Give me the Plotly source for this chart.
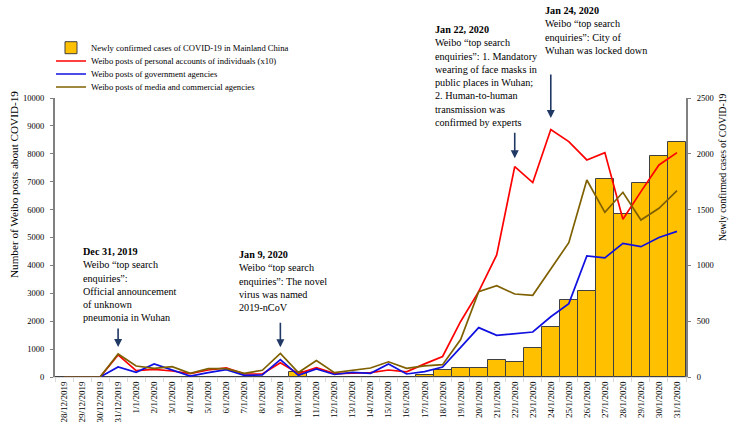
import plotly.graph_objects as go

dates = ["28/12/2019", "29/12/2019", "30/12/2019", "31/12/2019",
         "1/1/2020", "2/1/2020", "3/1/2020", "4/1/2020", "5/1/2020", "6/1/2020",
         "7/1/2020", "8/1/2020", "9/1/2020", "10/1/2020", "11/1/2020", "12/1/2020",
         "13/1/2020", "14/1/2020", "15/1/2020", "16/1/2020", "17/1/2020", "18/1/2020",
         "19/1/2020", "20/1/2020", "21/1/2020", "22/1/2020", "23/1/2020", "24/1/2020",
         "25/1/2020", "26/1/2020", "27/1/2020", "28/1/2020", "29/1/2020", "30/1/2020",
         "31/1/2020"]

new_cases = [0, 0, 0, 0,
             0, 0, 0, 0, 0, 0,
             0, 0, 0, 41, 0, 0,
             0, 0, 0, 4, 17, 59,
             77, 77, 149, 131, 259, 444,
             688, 769, 1771, 1459, 1737, 1981,
             2102]

personal_x10 = [0, 0, 0, 790,
                227, 275, 215, 120, 250, 323,
                107, 107, 514, 120, 334, 119,
                131, 155, 251, 185, 470, 735,
                1990, 3059, 4373, 7540, 6967, 8870,
                8437, 7780, 8042, 5652, 6644, 7600,
                8042]

government = [0, 0, 0, 358,
              167, 466, 240, 36, 155, 263,
              60, 72, 621, 60, 287, 90,
              167, 130, 470, 108, 191, 360,
              1064, 1769, 1494, 1565, 1613, 2160,
              2630, 4338, 4270, 4792, 4672, 5000,
              5220]

media = [0, 0, 0, 825,
         394, 310, 370, 131, 298, 298,
         131, 240, 848, 160, 590, 155,
         251, 323, 545, 310, 400, 442,
         1340, 3059, 3270, 2975, 2928, 3880,
         4816, 7062, 5903, 6620, 5628, 6047,
         6680]

names = ["Newly confirmed cases of COVID-19 in Mainland China",
         "Weibo posts of personal accounts of individuals (x10)",
         "Weibo posts of government agencies",
         "Weibo posts of media and commercial agencies"]

FONT = "Liberation Serif"
ARROW = "#203864"

fig = go.Figure()
fig.add_trace(go.Bar(
    x=dates, y=new_cases, name=names[0], width=1,
    marker=dict(color="#FFC000", line=dict(color="#404040", width=1)),
    yaxis="y", legend="legend"))
fig.add_trace(go.Scatter(
    x=dates, y=personal_x10, name=names[1], mode="lines",
    line=dict(color="#FF0000", width=1.7), yaxis="y2", legend="legend2"))
fig.add_trace(go.Scatter(
    x=dates, y=government, name=names[2], mode="lines",
    line=dict(color="#1010E0", width=1.7), yaxis="y2", legend="legend3"))
fig.add_trace(go.Scatter(
    x=dates, y=media, name=names[3], mode="lines",
    line=dict(color="#7F6000", width=1.7), yaxis="y2", legend="legend4"))

W, H = 738, 428
L, R, T, B = 55, 52, 98, 51
RX0, RX1, RY0, RY1 = L, W - R, T, H - B


def px(xp):
    return (xp - RX0) / (RX1 - RX0)


def py(yp):
    return (RY1 - yp) / (RY1 - RY0)


def legend_at(ypix):
    return dict(x=px(51), y=py(ypix), xanchor="left", yanchor="middle",
                bgcolor="rgba(0,0,0,0)", font=dict(family=FONT, size=8.6, color="#000"),
                itemwidth=30, tracegroupgap=0)


axis_font = dict(family=FONT, size=8.5, color="#000")

annotations = []
notes = [
    (80.7, 251, "<b>Dec 31, 2019</b><br>Weibo “top search<br>enquiries”:<br>Official announcement<br>of unknown<br>pneumonia in Wuhan"),
    (237, 254.7, "<b>Jan 9, 2020</b><br>Weibo “top search<br>enquiries”: The novel<br>virus was named<br>2019-nCoV"),
    (432.7, 29, "<b>Jan 22, 2020</b><br>Weibo “top search<br>enquiries”: 1. Mandatory<br>wearing of face masks in<br>public places in Wuhan;<br>2. Human-to-human<br>transmission was<br>confirmed by experts"),
    (543.3, 10.7, "<b>Jan 24, 2020</b><br>Weibo “top search<br>enquiries”: City of<br>Wuhan was locked down"),
]
for xl, yc, txt in notes:
    annotations.append(dict(
        x=px(xl), y=py(yc - 7.5), xref="paper", yref="paper",
        xanchor="left", yanchor="top", align="left", showarrow=False,
        text=txt, font=dict(family=FONT, size=10.2, color="#000")))

arrows = [(dates[3], 1075, -20), (dates[12], 1064, -26),
          (dates[25], 7838, -27), (dates[27], 9283, -45)]
for xa, ya, ay in arrows:
    annotations.append(dict(
        x=xa, y=ya, xref="x", yref="y2", ax=0, ay=ay, text="",
        showarrow=True, arrowhead=2, arrowsize=1, arrowwidth=1.6,
        arrowcolor=ARROW, standoff=0))

annotations.append(dict(
    x=px(14), y=py(185), xref="paper", yref="paper", textangle=-90,
    xanchor="center", yanchor="middle",
    showarrow=False, text="Number of Weibo posts about COVID-19",
    font=dict(family=FONT, size=11.2, color="#000")))
annotations.append(dict(
    x=px(722), y=py(167), xref="paper", yref="paper", textangle=-90,
    xanchor="center", yanchor="middle",
    showarrow=False, text="Newly confirmed cases of COVID-19",
    font=dict(family=FONT, size=9.7, color="#000")))

fig.update_layout(
    width=W, height=H,
    margin=dict(l=L, r=R, t=T, b=B, autoexpand=False),
    paper_bgcolor="white", plot_bgcolor="white",
    font=dict(family=FONT, color="#000"),
    showlegend=True,
    bargap=0,
    legend=legend_at(47.7),
    legend2=legend_at(61),
    legend3=legend_at(74),
    legend4=legend_at(87),
    xaxis=dict(type="category", range=[-0.5, 34.5], tickangle=-90,
               tickfont=dict(family=FONT, size=9, color="#000"),
               showline=True, linecolor="#d9d9d9", linewidth=1,
               ticks="outside", tickson="boundaries", ticklen=4, tickcolor="#d9d9d9",
               showgrid=False, zeroline=False, anchor="y"),
    yaxis=dict(side="right", range=[0, 2500], dtick=500, tickfont=axis_font,
               tickformat="d",
               showline=True, linecolor="#808080", linewidth=2,
               ticks="outside", ticklen=3, tickcolor="#808080",
               ticklabelstandoff=4, showgrid=False, zeroline=False),
    yaxis2=dict(side="left", overlaying="y", range=[0, 10000], dtick=1000,
                tickformat="d",
                tickfont=axis_font, showline=True, linecolor="#808080", linewidth=2,
                ticks="outside", ticklen=3, tickcolor="#808080",
                ticklabelstandoff=4, showgrid=False, zeroline=False),
    annotations=annotations,
)

fig.write_html("out.html", config={"displayModeBar": False},
               post_script="document.body.style.margin='0';")
